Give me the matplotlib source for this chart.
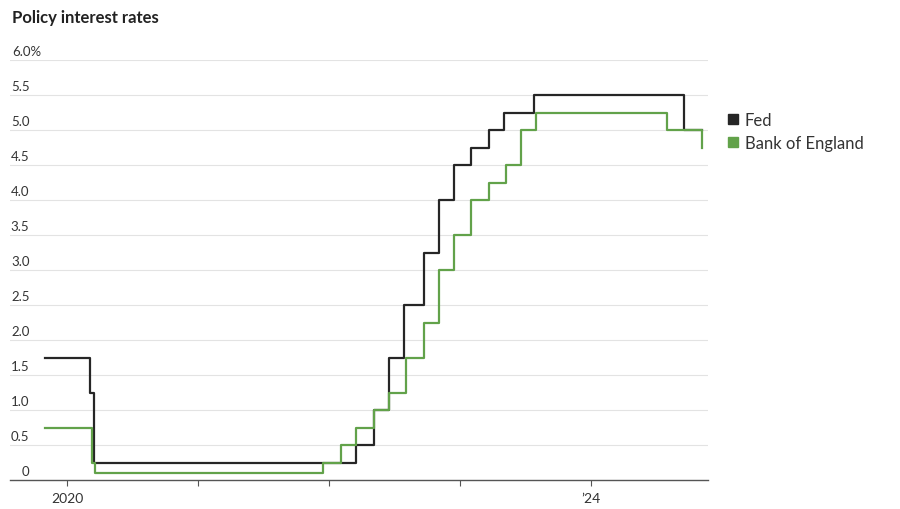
import matplotlib
matplotlib.use('Agg')
import matplotlib.pyplot as plt
import matplotlib.dates as mdates
from matplotlib.lines import Line2D
import pandas as pd

plt.rcParams['font.family'] = ['Lato', 'DejaVu Sans']

fed_dates = ['2019-11-01', '2020-03-03', '2020-03-16', '2022-03-17', '2022-05-05',
             '2022-06-16', '2022-07-28', '2022-09-22', '2022-11-03', '2022-12-15',
             '2023-02-02', '2023-03-23', '2023-05-04', '2023-07-27', '2024-09-19',
             '2024-11-07']
fed_rates = [1.75, 1.25, 0.25, 0.50, 1.00, 1.75, 2.50, 3.25, 4.00, 4.50,
             4.75, 5.00, 5.25, 5.50, 5.00, 5.00]

boe_dates = ['2019-11-01', '2020-03-11', '2020-03-19', '2021-12-16', '2022-02-03',
             '2022-03-17', '2022-05-05', '2022-06-16', '2022-08-04', '2022-09-22',
             '2022-11-03', '2022-12-15', '2023-02-02', '2023-03-23', '2023-05-11',
             '2023-06-22', '2023-08-03', '2024-08-01', '2024-11-07']
boe_rates = [0.75, 0.25, 0.10, 0.25, 0.50, 0.75, 1.00, 1.25, 1.75, 2.25,
             3.00, 3.50, 4.00, 4.25, 4.50, 5.00, 5.25, 5.00, 4.75]

y_ticks = [0, 0.5, 1.0, 1.5, 2.0, 2.5, 3.0, 3.5, 4.0, 4.5, 5.0, 5.5, 6.0]
y_labels = ['0', '0.5', '1.0', '1.5', '2.0', '2.5', '3.0', '3.5', '4.0', '4.5', '5.0', '5.5', '6.0%']

fed_color = '#262626'
boe_color = '#62a24a'

fig = plt.figure(figsize=(9, 5.1), dpi=100)
ax = fig.add_axes([10 / 900, 29 / 510, 698 / 900, 420 / 510])

ax.step(pd.to_datetime(fed_dates), fed_rates, where='post', color=fed_color, lw=1.6, zorder=3)
ax.step(pd.to_datetime(boe_dates), boe_rates, where='post', color=boe_color, lw=1.6, zorder=4)

ax.set_xlim(pd.Timestamp('2019-07-25'), pd.Timestamp('2024-11-24'))
ax.set_ylim(0, 6.0)

# gridlines and y labels above them (numbers right-aligned, % hangs out)
for v, lab in zip(y_ticks, y_labels):
    if v > 0:
        ax.axhline(v, color='#e3e3e3', lw=0.8, zorder=1)
    if lab.endswith('%'):
        ax.annotate(lab, xy=(0, v), xycoords=ax.get_yaxis_transform(),
                    xytext=(1.5, 2.5), textcoords='offset points',
                    ha='left', va='bottom', fontsize=9.5, color='#333333')
    else:
        ax.annotate(lab, xy=(0, v), xycoords=ax.get_yaxis_transform(),
                    xytext=(14, 2.5), textcoords='offset points',
                    ha='right', va='bottom', fontsize=9.5, color='#333333')
ax.set_yticks([])

for s in ['top', 'right', 'left']:
    ax.spines[s].set_visible(False)
ax.spines['bottom'].set_color('#555555')
ax.spines['bottom'].set_linewidth(1.0)
ax.spines['bottom'].set_zorder(5)

ax.set_xticks(pd.to_datetime(['2020-01-01', '2024-01-01']))
ax.set_xticklabels(['2020', '\u201924'])
ax.set_xticks(pd.to_datetime(['2021-01-01', '2022-01-01', '2023-01-01']), minor=True)
ax.tick_params(axis='x', which='both', length=4, width=0.8, color='#555555',
               labelsize=10, labelcolor='#333333', pad=5)

fig.text(12 / 900, 1 - 18 / 510, 'Policy interest rates', fontsize=12,
         fontweight='bold', color='#222222', va='center', ha='left')

handles = [Line2D([], [], marker='s', ls='', color=fed_color, markersize=7),
           Line2D([], [], marker='s', ls='', color=boe_color, markersize=7)]
fig.legend(handles, ['Fed', 'Bank of England'], loc='upper left',
           bbox_to_anchor=(708 / 900, 1 - 98 / 510), frameon=False,
           fontsize=12, handletextpad=0.1, labelspacing=0.4, handlelength=1.2,
           labelcolor='#333333')

fig.savefig('out.png', dpi=100)
